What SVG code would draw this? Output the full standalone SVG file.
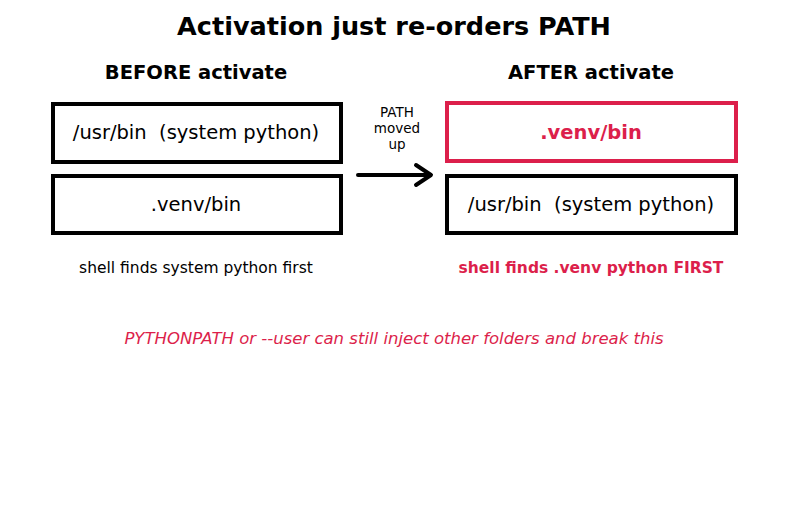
<svg xmlns="http://www.w3.org/2000/svg" width="787" height="512" viewBox="0 0 787 512">
<style>
text{font-family:"DejaVu Sans",sans-serif;text-anchor:middle;fill:#000;white-space:pre}
.box{fill:#fff;stroke:#000;stroke-width:4}
.red{stroke:#dc1f4b}
.rt{fill:#dc1f4b}
.bt{font-size:19.5px}
</style>
<rect width="787" height="512" fill="#fff"/>
<text x="394" y="35" font-size="25.5" font-weight="bold">Activation just re-orders PATH</text>
<text x="196" y="79" font-size="19.5" font-weight="bold">BEFORE activate</text>
<text x="591" y="79" font-size="19.5" font-weight="bold">AFTER activate</text>
<g id="before-usr"><rect class="box" x="53" y="104" width="288" height="58"/><text class="bt" x="196" y="139" xml:space="preserve">/usr/bin  (system python)</text></g>
<g id="before-venv"><rect class="box" x="53" y="176" width="288" height="57"/><text class="bt" x="196" y="211">.venv/bin</text></g>
<g id="after-venv"><rect class="box red" x="447" y="103" width="289" height="58"/><text class="bt rt" x="591" y="139" font-weight="bold">.venv/bin</text></g>
<g id="after-usr"><rect class="box" x="447" y="176" width="289" height="57"/><text class="bt" x="591" y="211" xml:space="preserve">/usr/bin  (system python)</text></g>
<g id="connectors">
<path d="M358 175H430M416 165L431 175L416 185" fill="none" stroke="#000" stroke-width="4" stroke-linecap="round" stroke-linejoin="round"/>
<text x="397" y="117" font-size="13.5">PATH</text>
<text x="397" y="133" font-size="13.5">moved</text>
<text x="397" y="149" font-size="13.5">up</text>
</g>
<text x="196" y="273" font-size="15.5">shell finds system python first</text>
<text x="591" y="273" font-size="15.5" font-weight="bold" class="rt">shell finds .venv python FIRST</text>
<text x="394" y="344" font-size="16.5" font-style="italic" class="rt">PYTHONPATH or --user can still inject other folders and break this</text>
</svg>
